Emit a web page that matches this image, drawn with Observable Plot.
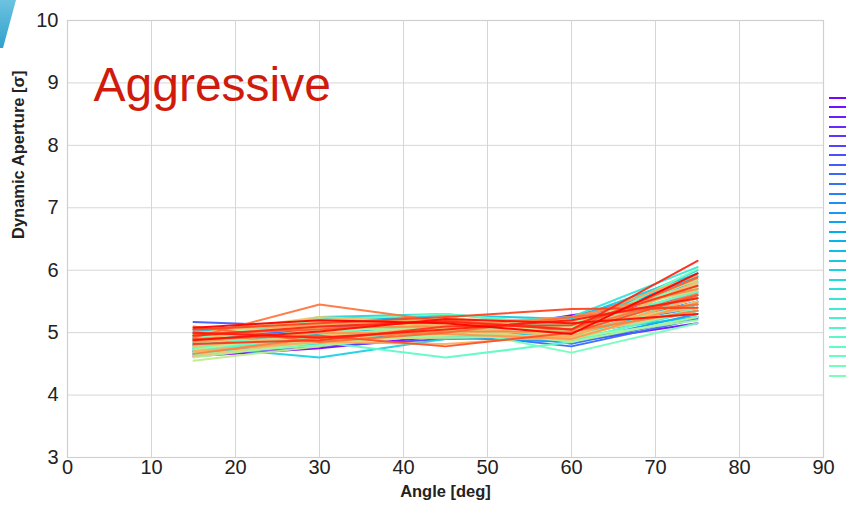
<!DOCTYPE html>
<html>
<head>
<meta charset="utf-8">
<script src="https://cdn.jsdelivr.net/npm/d3@7"></script>
<script src="https://cdn.jsdelivr.net/npm/@observablehq/plot@0.6"></script>
<style>
  html, body { margin: 0; padding: 0; background: #fff; }
  #wrap { position: relative; width: 846px; height: 519px; overflow: hidden; font-family: "Liberation Sans", Arial, sans-serif; }
  #deco { position: absolute; left: 0; top: 0; width: 18px; height: 50px;
          background: linear-gradient(180deg, #6cc3e0, #2f9fcc);
          clip-path: polygon(0 0, 16px 0, 3px 48px, 0 48px); }
  #legend { position: absolute; left: 829px; top: 93px; }
  .sw { height: 9.59px; display: flex; align-items: center; }
  .sw span { display: block; width: 22px; height: 2px; }
</style>
</head>
<body>
<div id="wrap"><div id="deco"></div><div id="chart"></div><div id="legend"></div></div>
<script>
// ---- data ----
const angles = [15, 30, 45, 60, 75];
const xTicks = [0, 10, 20, 30, 40, 50, 60, 70, 80, 90];
const yTicks = [3, 4, 5, 6, 7, 8, 9, 10];
const title = "Aggressive";
const xLabel = "Angle [deg]";
const yLabel = "Dynamic Aperture [σ]";
// dynamic aperture per seed at the five angles
const seedValues = [
  [4.62, 4.75, 4.95, 5.28, 5.55],
  [4.80, 4.95, 5.15, 4.85, 5.15],
  [4.70, 4.88, 5.05, 5.20, 5.70],
  [4.95, 5.00, 5.10, 5.05, 5.45],
  [4.85, 5.05, 4.98, 5.15, 5.60],
  [4.65, 4.78, 4.90, 4.95, 5.35],
  [5.05, 5.10, 5.20, 5.00, 5.50],
  [5.17, 5.10, 5.08, 5.25, 5.80],
  [4.75, 4.92, 5.00, 4.78, 5.22],
  [4.90, 5.05, 5.12, 4.82, 5.25],
  [4.68, 4.85, 5.02, 5.10, 5.65],
  [5.00, 5.15, 5.22, 5.05, 5.40],
  [4.82, 4.95, 4.92, 4.85, 5.30],
  [4.72, 4.80, 5.05, 5.18, 5.75],
  [4.95, 5.20, 5.25, 4.95, 5.50],
  [4.88, 4.98, 5.10, 5.12, 5.90],
  [4.70, 4.90, 4.95, 5.00, 5.25],
  [5.02, 5.22, 5.28, 5.22, 5.95],
  [4.78, 4.60, 4.90, 5.00, 5.45],
  [4.85, 5.25, 5.30, 5.10, 6.00],
  [4.66, 4.82, 5.00, 4.90, 5.60],
  [4.92, 5.00, 5.15, 5.25, 6.05],
  [4.75, 5.05, 4.95, 4.88, 5.35],
  [4.98, 5.18, 5.22, 5.05, 5.85],
  [4.82, 4.88, 5.05, 5.15, 5.55],
  [4.70, 4.95, 5.25, 4.95, 5.70],
  [4.88, 4.85, 4.60, 4.85, 5.40],
  [4.92, 5.20, 5.30, 5.12, 5.65],
  [4.75, 4.92, 5.08, 4.68, 5.15],
  [4.84, 5.00, 5.18, 5.00, 6.02],
  [4.65, 4.80, 4.98, 5.20, 5.30],
  [5.00, 5.08, 5.02, 4.90, 5.50],
  [4.78, 4.95, 5.12, 5.08, 5.80],
  [4.90, 5.12, 5.25, 4.92, 5.20],
  [4.60, 4.85, 4.95, 5.05, 5.45],
  [4.82, 5.05, 5.10, 4.85, 5.25],
  [4.72, 5.02, 5.18, 5.15, 5.72],
  [4.55, 4.78, 5.05, 4.98, 5.60],
  [4.95, 5.22, 5.00, 5.10, 5.85],
  [4.68, 4.90, 4.92, 4.95, 5.35],
  [4.88, 5.15, 5.20, 5.20, 5.68],
  [4.62, 4.88, 5.05, 4.88, 5.50],
  [4.98, 5.25, 5.15, 5.00, 5.78],
  [4.78, 4.95, 5.08, 5.12, 5.40],
  [4.88, 5.18, 5.12, 4.92, 5.82],
  [4.70, 4.85, 4.82, 4.95, 5.55],
  [5.05, 5.12, 5.22, 5.18, 5.92],
  [4.85, 5.00, 4.98, 4.90, 5.48],
  [4.95, 5.08, 5.10, 5.25, 5.70],
  [4.66, 4.92, 5.02, 5.02, 5.35],
  [4.92, 5.45, 5.18, 5.05, 5.62],
  [5.10, 4.85, 5.00, 5.25, 5.45],
  [4.98, 5.05, 5.20, 5.05, 5.88],
  [4.90, 4.95, 4.78, 5.00, 5.60],
  [5.05, 5.15, 5.25, 5.38, 5.40],
  [4.82, 4.88, 5.10, 5.12, 5.75],
  [4.95, 5.10, 5.18, 5.05, 6.15],
  [5.00, 4.92, 5.05, 5.20, 5.55],
  [4.88, 5.02, 5.22, 5.15, 5.30],
  [5.08, 5.20, 5.15, 4.98, 5.95]
];
const legendShown = 30; // entries visible before the image edge

// ---- build ----
const n = seedValues.length;
const seeds = d3.range(n);
// matplotlib "rainbow" colormap
function rainbow(t) {
  const r = Math.min(1, Math.abs(2 * t - 0.5));
  const g = Math.sin(Math.PI * t);
  const b = Math.cos(Math.PI * t / 2);
  return d3.rgb(r * 255, g * 255, b * 255).formatHex();
}
const colors = seeds.map(i => rainbow(i / (n - 1)));
const rows = [];
seedValues.forEach((vals, s) => vals.forEach((v, k) => rows.push({seed: s, angle: angles[k], da: v})));

const font = "'Liberation Sans', Arial, sans-serif";
const chart = Plot.plot({
  width: 846,
  height: 519,
  marginLeft: 67,
  marginRight: 23,
  marginTop: 20,
  marginBottom: 62,
  style: {fontFamily: font, color: "#222", background: "transparent", overflow: "visible"},
  x: {domain: [0, 90]},
  y: {domain: [3, 10]},
  color: {type: "ordinal", domain: seeds, range: colors},
  marks: [
    Plot.gridX(xTicks, {stroke: "#d6d6d6", strokeOpacity: 1, strokeWidth: 1}),
    Plot.gridY(yTicks, {stroke: "#d6d6d6", strokeOpacity: 1, strokeWidth: 1}),
    Plot.frame({stroke: "#d0d0d0", strokeWidth: 1.2}),
    Plot.axisX(xTicks, {tickSize: 0, tickPadding: 2, fontSize: 20, label: null, fill: "#222", tickFormat: d => String(d)}),
    Plot.axisY(yTicks, {tickSize: 0, tickPadding: 9, fontSize: 20, label: null, fill: "#222", tickFormat: d => String(d)}),
    Plot.text([xLabel], {frameAnchor: "bottom", dy: 39, fontSize: 16.5, fontWeight: "bold", fill: "#222"}),
    Plot.text([yLabel], {frameAnchor: "left", dx: -49, rotate: -90, fontSize: 16.5, fontWeight: "bold", fill: "#222"}),
    Plot.text([title], {frameAnchor: "top-left", textAnchor: "start", dx: 26, dy: 46, fontSize: 48, fill: "#d01a0c"}),
    Plot.line(rows, {x: "angle", y: "da", z: "seed", stroke: "seed", strokeWidth: 2, strokeOpacity: 0.95})
  ]
});
document.getElementById("chart").appendChild(chart);

const legend = d3.select("#legend");
seeds.slice(0, legendShown).forEach(i => {
  legend.append("div").attr("class", "sw").append("span").style("background", colors[i]);
});
</script>
</body>
</html>
